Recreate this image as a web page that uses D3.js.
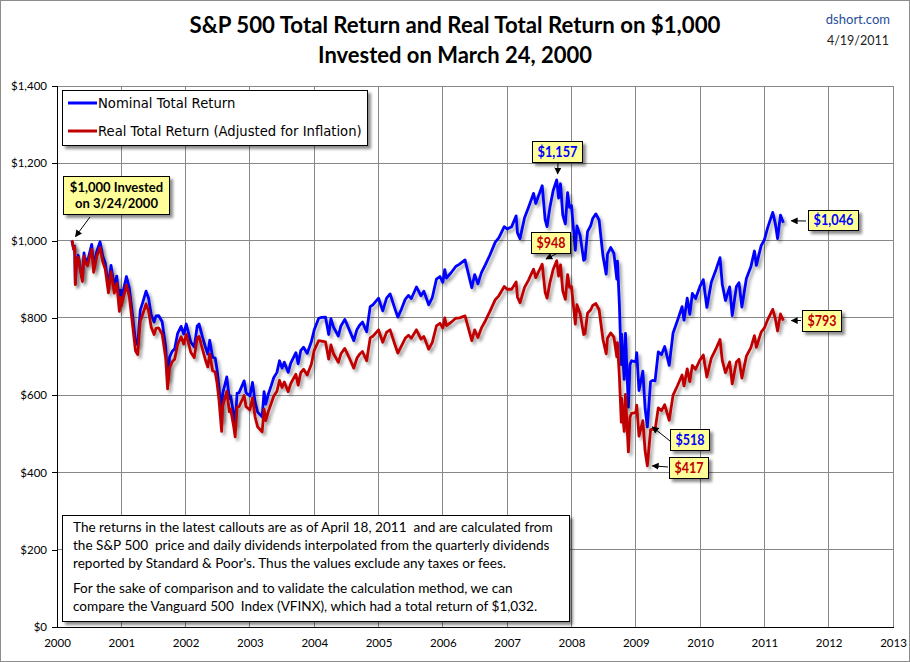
<!DOCTYPE html>
<html><head><meta charset="utf-8">
<script src="https://cdn.jsdelivr.net/npm/d3@7"></script>
<style>body{margin:0;background:#fff} svg{display:block} text{white-space:pre}</style>
</head><body><svg id="c" width="910" height="662"></svg>
<script>
// ---- DATA (decimal year, $ value of $1,000 invested 3/24/2000) ----
const dates = [
2000.225,2000.235,2000.26,2000.275,2000.285,2000.30,2000.33,2000.36,2000.395,2000.42,2000.43,2000.475,2000.50,2000.54,2000.57,2000.62,2000.67,2000.71,2000.75,2000.80,2000.84,2000.89,2000.93,2000.97,2000.99,
2001.00,2001.08,2001.125,2001.165,2001.22,2001.255,2001.295,2001.33,2001.385,2001.425,2001.465,2001.51,2001.54,2001.58,2001.635,2001.69,2001.72,2001.75,2001.79,2001.83,2001.875,2001.93,2001.97,
2002.01,2002.08,2002.135,2002.18,2002.21,2002.26,2002.305,2002.345,2002.375,2002.42,2002.46,2002.49,2002.52,2002.56,2002.575,2002.64,2002.68,2002.70,2002.75,2002.77,2002.80,2002.83,2002.91,2002.94,
2003.00,2003.04,2003.08,2003.12,2003.19,2003.22,2003.245,2003.285,2003.33,2003.37,2003.42,2003.46,2003.50,2003.535,2003.595,2003.635,2003.715,2003.75,2003.79,2003.835,2003.89,2003.955,
2004.00,2004.07,2004.115,2004.175,2004.225,2004.26,2004.30,2004.375,2004.415,2004.475,2004.51,2004.56,2004.615,2004.665,2004.705,2004.75,2004.815,2004.87,2004.915,
2005.00,2005.065,2005.125,2005.18,2005.25,2005.30,2005.355,2005.415,2005.465,2005.51,2005.59,2005.66,2005.705,2005.78,2005.835,2005.90,2005.955,
2006.00,2006.03,2006.055,2006.125,2006.20,2006.26,2006.345,2006.45,2006.495,2006.545,2006.60,2006.66,2006.73,2006.815,2006.87,2006.955,
2007.00,2007.07,2007.14,2007.16,2007.20,2007.27,2007.33,2007.41,2007.445,2007.545,2007.59,2007.62,2007.665,2007.715,2007.77,2007.80,2007.83,2007.865,2007.905,2007.94,2007.97,
2008.00,2008.06,2008.085,2008.135,2008.19,2008.21,2008.25,2008.30,2008.33,2008.38,2008.43,2008.49,2008.54,2008.56,2008.61,2008.66,2008.705,2008.715,2008.745,2008.775,2008.78,2008.82,2008.84,2008.885,2008.91,2008.935,
2009.00,2009.015,2009.05,2009.11,2009.145,2009.18,2009.23,2009.26,2009.30,2009.35,2009.40,2009.45,2009.52,2009.58,2009.65,2009.72,2009.75,2009.80,2009.84,2009.88,2009.93,2009.995,
2010.05,2010.105,2010.175,2010.25,2010.31,2010.345,2010.395,2010.46,2010.50,2010.565,2010.605,2010.65,2010.72,2010.79,2010.845,2010.875,2010.95,
2011.00,2011.05,2011.13,2011.17,2011.205,2011.25,2011.295
];
const nominal = [
1000,998,978,985,889,939,962,931,900,968,955,945,963,990,930,973,997,961,942,881,936,881,908,834,872,
848,907,877,821,739,730,820,838,869,850,808,789,805,806,790,725,641,698,713,720,759,778,758,
784,737,725,779,784,752,726,706,742,698,696,665,619,535,603,647,591,598,548,523,605,606,637,606,
598,633,582,556,544,609,577,602,624,645,659,689,670,685,659,683,710,681,715,724,708,738,
769,799,801,802,757,798,776,753,779,796,783,763,741,770,781,789,764,829,834,
851,818,851,862,826,802,822,848,858,850,880,857,869,834,852,900,907,
892,925,903,916,933,939,950,878,912,888,917,937,962,996,1007,1036,
1030,1036,1064,1020,1005,1059,1085,1122,1096,1142,1055,1036,1086,1129,1157,1110,1147,1066,1043,1124,1086,
1091,975,1038,1013,949,952,1023,1039,1057,1069,1053,960,913,965,982,967,900,947,835,679,758,641,760,569,679,689,
686,710,612,662,566,518,635,638,637,712,705,726,677,761,794,829,794,851,809,863,850,880,
899,827,892,926,956,887,845,880,806,881,891,828,902,932,973,936,987,
1002,1033,1073,1044,1005,1066,1046
];
const real = [
1000,998,977,983,886,935,957,926,894,960,947,935,953,978,918,960,982,946,926,865,919,864,889,817,853,
830,885,854,797,715,705,791,808,836,817,776,757,773,774,758,696,616,670,686,693,731,751,732,
757,711,697,748,752,720,693,673,707,663,660,630,586,506,570,610,557,564,516,492,569,570,599,570,
562,593,544,518,505,564,534,557,578,597,610,638,620,634,609,630,654,626,658,667,652,680,
716,741,740,738,693,730,707,685,707,721,709,691,670,696,706,713,689,748,753,
769,737,763,769,733,709,727,747,755,747,769,745,752,719,736,779,786,
774,800,780,788,799,800,805,741,769,749,774,792,816,847,857,881,
874,874,893,854,839,879,897,926,904,939,867,851,891,925,948,908,937,869,848,912,879,
881,784,834,811,757,759,812,821,832,837,821,744,707,747,761,750,699,736,649,530,592,506,602,453,543,553,
555,574,494,534,456,417,510,512,510,567,560,575,535,600,625,652,624,668,635,677,667,690,
704,647,696,721,744,690,658,686,629,686,693,644,701,723,754,724,763,
774,795,822,798,766,810,793
];
const xTicks = [2000,2001,2002,2003,2004,2005,2006,2007,2008,2009,2010,2011,2012,2013];
const yTicks = [0,200,400,600,800,1000,1200,1400];
const seriesNames = ["Nominal Total Return","Real Total Return (Adjusted for Inflation)"];
const seriesColors = ["#0000FF","#C00000"];
const titleLines = ["S&P 500 Total Return and Real Total Return on $1,000","Invested on March 24, 2000"];
const noteLines = [
 "The returns in the latest callouts are as of April 18, 2011  and are calculated from",
 "the S&P 500  price and daily dividends interpolated from the quarterly dividends",
 "reported by Standard & Poor's. Thus the values exclude any taxes or fees.",
 "For the sake of comparison and to validate the calculation method, we can",
 "compare the Vanguard 500  Index (VFINX), which had a total return of $1,032."
];

// ---- CHART ----
const svg = d3.select("#c");
const FONT = "Lato, 'Open Sans', sans-serif";
const x = d3.scaleLinear().domain([2000,2013]).range([57,893]);
const y = d3.scaleLinear().domain([0,1400]).range([627,86]);

function fit(t, target){
  const w = t.node().getComputedTextLength();
  const fs = parseFloat(t.attr("font-size"));
  t.attr("font-size", fs*target/w);
  return fs*target/w;
}

const defs = svg.append("defs");
const f1 = defs.append("filter").attr("id","lshadow").attr("x","-5%").attr("y","-5%").attr("width","115%").attr("height","120%");
f1.append("feDropShadow").attr("dx",2.5).attr("dy",3).attr("stdDeviation",1.6).attr("flood-color","#000").attr("flood-opacity",0.35);
const f2 = defs.append("filter").attr("id","bshadow").attr("x","-10%").attr("y","-10%").attr("width","130%").attr("height","140%");
f2.append("feDropShadow").attr("dx",3).attr("dy",3).attr("stdDeviation",1.5).attr("flood-color","#000").attr("flood-opacity",0.45);
defs.append("marker").attr("id","arr").attr("viewBox","0 0 10 10").attr("refX",9).attr("refY",5)
  .attr("markerWidth",7).attr("markerHeight",7).attr("orient","auto-start-reverse").attr("markerUnits","userSpaceOnUse")
  .append("path").attr("d","M0,0 L10,5 L0,10 z").attr("fill","#000");

svg.append("rect").attr("x",0.5).attr("y",0.5).attr("width",909).attr("height",661)
  .attr("fill","#fff").attr("stroke","#8c8c8c");

// gridlines
const grid = svg.append("g").attr("stroke","#888").attr("stroke-width",1).attr("shape-rendering","crispEdges");
grid.selectAll(".gx").data(xTicks).join("line").attr("x1",d=>x(d)).attr("x2",d=>x(d)).attr("y1",y(0)).attr("y2",y(1400));
grid.selectAll(".gy").data(yTicks).join("line").attr("x1",x(2000)).attr("x2",x(2013)).attr("y1",d=>y(d)).attr("y2",d=>y(d));

// axes
const ya = svg.append("g").attr("transform",`translate(${x(2000)},0)`)
  .call(d3.axisLeft(y).tickValues(yTicks).tickFormat(d=>"$"+d3.format(",")(d)).tickSize(5).tickPadding(5));
ya.select(".domain").attr("stroke","#000").attr("shape-rendering","crispEdges");
ya.selectAll(".tick line").attr("stroke","#000").attr("shape-rendering","crispEdges");
ya.selectAll("text").attr("font-family",FONT).attr("font-size",11.5).attr("fill","#000");
const xa = svg.append("g").attr("transform",`translate(0,${y(0)})`)
  .call(d3.axisBottom(x).tickValues(xTicks).tickFormat(d3.format("d")).tickSize(0).tickPadding(12));
xa.select(".domain").attr("stroke","#000").attr("shape-rendering","crispEdges");
xa.selectAll("text").attr("font-family",FONT).attr("font-size",11.5).attr("fill","#000");

// lines
const idx = d3.range(dates.length);
const lineN = d3.line().x(i=>x(dates[i])).y(i=>y(nominal[i]));
const lineR = d3.line().x(i=>x(dates[i])).y(i=>y(real[i]));
svg.append("path").attr("d",lineN(idx)).attr("fill","none").attr("stroke",seriesColors[0]).attr("stroke-width",2.8)
  .attr("stroke-linejoin","round").attr("filter","url(#lshadow)");
svg.append("path").attr("d",lineR(idx)).attr("fill","none").attr("stroke",seriesColors[1]).attr("stroke-width",2.8)
  .attr("stroke-linejoin","round").attr("filter","url(#lshadow)");

// title
svg.append("text").attr("x",455).attr("y",33).attr("text-anchor","middle").attr("font-family",FONT)
  .attr("font-weight","bold").attr("font-size",20).attr("fill","#000").text(titleLines[0]).call(t=>fit(t,531));
svg.append("text").attr("x",455).attr("y",63).attr("text-anchor","middle").attr("font-family",FONT)
  .attr("font-weight","bold").attr("font-size",20).attr("fill","#000").text(titleLines[1]).call(t=>fit(t,274));
svg.append("text").attr("x",890).attr("y",24).attr("text-anchor","end").attr("font-family",FONT)
  .attr("font-size",13).attr("fill","#1F4E9A").text("dshort.com");
svg.append("text").attr("x",889).attr("y",45).attr("text-anchor","end").attr("font-family",FONT)
  .attr("font-size",12.5).attr("fill","#222").text("4/19/2011");

// legend
const lg = svg.append("g");
lg.append("rect").attr("x",62.5).attr("y",90.5).attr("width",305).attr("height",55).attr("fill","#fff")
  .attr("stroke","#000").attr("filter","url(#bshadow)");
[103,131].forEach((yy,i)=>{
  lg.append("line").attr("x1",68).attr("x2",97).attr("y1",yy).attr("y2",yy).attr("stroke",seriesColors[i]).attr("stroke-width",3);
});
const lt2 = lg.append("text").attr("x",98).attr("y",135.5).attr("font-family","'DejaVu Sans', Verdana, sans-serif")
  .attr("font-size",12).attr("fill","#000").text(seriesNames[1]);
const lfs = fit(lt2,264);
lg.append("text").attr("x",98).attr("y",107.5).attr("font-family","'DejaVu Sans', Verdana, sans-serif")
  .attr("font-size",lfs).attr("fill","#000").text(seriesNames[0]);

// callouts
function callout(bx,by,bw,bh,lines,color,fs,from,to,tw){
  const g = svg.append("g");
  g.append("line").attr("x1",from[0]).attr("y1",from[1]).attr("x2",to[0]).attr("y2",to[1])
    .attr("stroke","#000").attr("stroke-width",1).attr("marker-end","url(#arr)");
  g.append("rect").attr("x",bx+0.5).attr("y",by+0.5).attr("width",bw).attr("height",bh)
    .attr("fill","#FFFF99").attr("stroke","#000").attr("filter","url(#bshadow)");
  const n = lines.length;
  lines.forEach((s,i)=>{
    const t = g.append("text").attr("x",bx+bw/2+0.5).attr("y",by+bh/2+ (i-(n-1)/2)*16 + fs*0.36)
      .attr("text-anchor","middle").attr("font-family",FONT).attr("font-weight","bold")
      .attr("font-size",fs).attr("fill",color).text(s);
    if (tw) t.attr("textLength",tw).attr("lengthAdjust","spacingAndGlyphs");
  });
}
const iStart = 0, iEnd = dates.length-1;
const iPeak = nominal.indexOf(d3.max(nominal));
const iLowN = nominal.indexOf(d3.min(nominal.slice(150))), iLowR = real.indexOf(d3.min(real));
callout(63,176,106,38,["$1,000 Invested","on 3/24/2000"],"#000",13,[90,217],[x(dates[iStart])+4,y(nominal[iStart])-4]);
callout(532,141,50,21,["$"+d3.format(",")(nominal[iPeak])],"#0000FF",15,[558,163],[x(dates[iPeak])+1,y(nominal[iPeak])-6],40);
callout(531,232,39,21,["$"+real[iPeak]],"#C00000",15,[556,254],[546,259],29);
callout(808,210,50,20,["$"+d3.format(",")(nominal[iEnd])],"#0000FF",15,[806,221],[x(dates[iEnd])+8,y(nominal[iEnd])-2],40);
callout(802,310,39,21,["$"+real[iEnd]],"#C00000",15,[801,320.5],[x(dates[iEnd])+8,y(real[iEnd])],29);
callout(670,429,39,21,["$"+nominal[iLowN]],"#0000FF",15,[670,441],[x(dates[iLowN])+5,y(nominal[iLowN])],29);
callout(669,457,39,21,["$"+real[iLowR]],"#C00000",15,[668,467],[x(dates[iLowR])+5,y(real[iLowR])],29);

// note box
const nb = svg.append("g");
nb.append("rect").attr("x",62.5).attr("y",515.5).attr("width",507).attr("height",106).attr("fill","#fff")
  .attr("stroke","#000").attr("filter","url(#bshadow)");
const nys = [532,550,568,593,611];
const t0 = nb.append("text").attr("x",73).attr("y",nys[0]).attr("font-family",FONT).attr("font-size",13)
  .attr("fill","#000").text(noteLines[0]);
const nfs = fit(t0,480);
noteLines.slice(1).forEach((s,i)=>{
  nb.append("text").attr("x",73).attr("y",nys[i+1]).attr("font-family",FONT).attr("font-size",nfs)
    .attr("fill","#000").text(s);
});
</script></body></html>
